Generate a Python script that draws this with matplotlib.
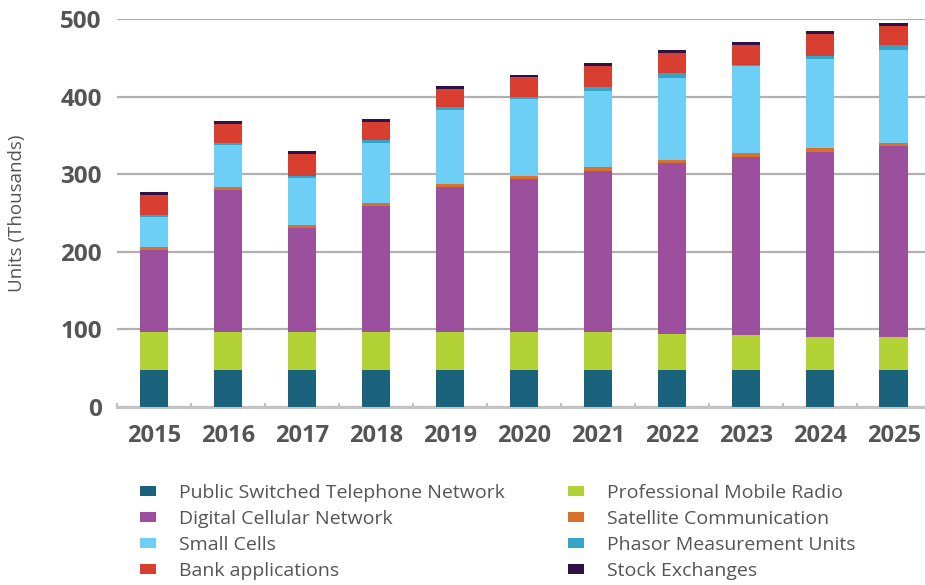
import numpy as np
import matplotlib
matplotlib.use("Agg")
import matplotlib.pyplot as plt

years = ['2015', '2016', '2017', '2018', '2019', '2020', '2021', '2022', '2023', '2024', '2025']

# values in thousands of units
pstn = [48, 48, 48, 48, 48, 48, 48, 48, 48, 48, 48]
pmr = [49, 49, 49, 49, 49, 49, 49, 46.5, 45, 42.6, 42.6]
dcn = [105.6, 182.8, 133.9, 162.2, 187, 197, 207.5, 220.4, 229.4, 238.4, 246.2]
satellite = [3.8, 3.9, 3.9, 3.9, 4, 4.3, 4.3, 3.8, 4.3, 4.3, 3.8]
small_cells = [38.6, 53.3, 60.7, 77.7, 95, 99, 99, 105.7, 113, 115.6, 120]
pmu = [2.6, 2.6, 2.6, 3, 3, 2.6, 5, 6.4, 1.3, 3.8, 5.6]
bank = [25.8, 25.7, 28.4, 24, 24, 25, 26, 25.8, 25.7, 28.4, 25.3]
stock = [3.9, 3.9, 3.9, 3.9, 4, 3.5, 4, 3.9, 3.9, 3.9, 3.9]

series = [
    ('Public Switched Telephone Network', pstn, '#1b627c'),
    ('Professional Mobile Radio', pmr, '#b2d235'),
    ('Digital Cellular Network', dcn, '#9b4f9d'),
    ('Satellite Communication', satellite, '#d9702b'),
    ('Small Cells', small_cells, '#6dcff6'),
    ('Phasor Measurement Units', pmu, '#36a3c9'),
    ('Bank applications', bank, '#d83f30'),
    ('Stock Exchanges', stock, '#2e1145'),
]

fig = plt.figure(figsize=(9.25, 5.85), dpi=100)
ax = fig.add_axes([117 / 925, 1 - 407 / 585, 1 - 117 / 925, (407 - 19) / 585])

x = np.arange(len(years))
bottom = np.zeros(len(years))
handles = {}
for name, vals, col in series:
    b = ax.bar(x, vals, width=0.39, bottom=bottom, color=col, label=name, zorder=3)
    handles[name] = b
    bottom += np.array(vals)

ax.set_ylim(0, 500)
ax.set_xlim(-0.5, 10.42)
ax.set_yticks(range(0, 501, 100))
ax.set_xticks(x)
ax.set_xticklabels(years)

ax.grid(axis='y', color='#b0b0b0', linewidth=1.6, zorder=0)
for s in ['top', 'right', 'left']:
    ax.spines[s].set_visible(False)
ax.spines['bottom'].set_color('#c4c4c4')
ax.spines['bottom'].set_linewidth(2.2)

ax.tick_params(axis='y', length=0, pad=11, labelsize=17.5, labelcolor='#555555')
ax.tick_params(axis='x', length=0, pad=12, labelsize=17, labelcolor='#555555')
for lab in ax.get_yticklabels() + ax.get_xticklabels():
    lab.set_fontweight('bold')
    lab.set_fontfamily('Open Sans')

# category boundary ticks on the baseline
for bx in np.arange(-0.5, 10.5, 1.0):
    ax.plot([bx, bx], [0, 3.5], color='#c4c4c4', linewidth=1.6, zorder=2, clip_on=False)

ax.set_ylabel('Units (Thousands)', fontsize=13.5, color='#555555', family='Open Sans')
ax.yaxis.set_label_coords(-0.113, 0.5)

col1 = ['Public Switched Telephone Network', 'Digital Cellular Network', 'Small Cells',
        'Bank applications']
col2 = ['Professional Mobile Radio', 'Satellite Communication',
        'Phasor Measurement Units', 'Stock Exchanges']
leg_kw = dict(loc='upper left', frameon=False, prop={'family': 'Open Sans', 'size': 14},
              labelcolor='#555555', handlelength=0.82, handleheight=0.45,
              handletextpad=1.2, labelspacing=0.41, borderpad=0, borderaxespad=0)
leg1 = fig.legend([handles[n] for n in col1], col1,
                  bbox_to_anchor=(140 / 925, 1 - 484 / 585), **leg_kw)
leg2 = fig.legend([handles[n] for n in col2], col2,
                  bbox_to_anchor=(568 / 925, 1 - 484 / 585), **leg_kw)

fig.savefig('out.png', dpi=100)
